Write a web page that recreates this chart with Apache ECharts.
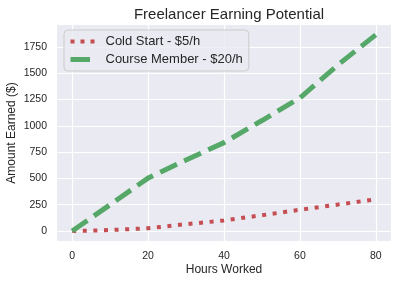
<!DOCTYPE html>
<html><head><meta charset="utf-8">
<script src="https://cdn.jsdelivr.net/npm/echarts@6/dist/echarts.min.js"></script>
<style>html,body{margin:0;padding:0;background:#fff}#c{width:398px;height:282px}</style>
</head><body><div id="c"></div>
<script>
const hours = [0, 10, 20, 30, 40, 50, 60, 70, 80];
const coldStart = [0, 9, 26, 65, 100, 150, 202, 251, 302];
const courseMember = [0, 250, 503, 675, 840, 1050, 1265, 1578, 1865];
const xTicks = [0, 20, 40, 60, 80];
const yTicks = [0, 250, 500, 750, 1000, 1250, 1500, 1750];
const seriesNames = ['Cold Start - $5/h', 'Course Member - $20/h'];

const FONT = '"Liberation Sans", Arial, sans-serif';
const TXT = '#262626';
const RED = '#C44E52', GREEN = '#55A868';
const chart = echarts.init(document.getElementById('c'), null, {renderer: 'canvas'});
chart.setOption({
  animation: false,
  backgroundColor: '#ffffff',
  title: {
    text: 'Freelancer Earning Potential', left: 224, top: 2, textAlign: 'center',
    textStyle: {fontFamily: FONT, fontSize: 15, fontWeight: 'normal', color: TXT}
  },
  legend: {
    orient: 'vertical', left: 64, top: 30,
    backgroundColor: 'rgba(234,234,242,0.8)', borderColor: '#cccccc', borderWidth: 1, borderRadius: 4,
    padding: [5, 6, 5, 4], itemGap: 5, itemWidth: 26, itemHeight: 14,
    textStyle: {fontFamily: FONT, fontSize: 13, color: TXT, padding: [0, 0, 0, 4]},
    itemStyle: {opacity: 0},
    data: [
      {name: seriesNames[0], itemStyle: {opacity: 0}, lineStyle: {color: RED, width: 4, type: [4, 6], cap: 'butt'}},
      {name: seriesNames[1], itemStyle: {opacity: 0}, lineStyle: {color: GREEN, width: 5, type: [19.5, 8], cap: 'butt'}}
    ]
  },
  grid: {left: 57, right: 7, top: 25, bottom: 41, show: true, backgroundColor: '#EAEAF2', borderWidth: 0,
    outerBoundsMode: 'none', containLabel: false},
  xAxis: {
    type: 'value', min: -4, max: 84,
    name: 'Hours Worked', nameLocation: 'middle', nameGap: 23, nameMoveOverlap: false,
    nameTextStyle: {fontFamily: FONT, fontSize: 12, color: TXT},
    axisLine: {show: false}, axisTick: {show: false, customValues: xTicks},
    axisLabel: {customValues: xTicks, fontFamily: FONT, fontSize: 10.5, color: TXT, margin: 10,
      formatter: v => String(v)},
    splitLine: {show: true, lineStyle: {color: '#ffffff', width: 1.2}}
  },
  yAxis: {
    type: 'value', min: -95, max: 1958,
    name: 'Amount Earned ($)', nameLocation: 'middle', nameGap: 39, nameMoveOverlap: false,
    nameTextStyle: {fontFamily: FONT, fontSize: 12, color: TXT},
    axisLine: {show: false}, axisTick: {show: false, customValues: yTicks},
    axisLabel: {customValues: yTicks, fontFamily: FONT, fontSize: 10.5, color: TXT, margin: 10,
      formatter: v => String(v)},
    splitLine: {show: true, lineStyle: {color: '#ffffff', width: 1.2}}
  },
  series: [
    {
      name: seriesNames[0], type: 'line', data: hours.map((h, i) => [h, coldStart[i]]),
      showSymbol: false, symbol: 'none', color: RED,
      lineStyle: {color: RED, width: 4, type: [4, 6.6], cap: 'butt'}
    },
    {
      name: seriesNames[1], type: 'line', data: hours.map((h, i) => [h, courseMember[i]]),
      showSymbol: false, symbol: 'none', color: GREEN,
      lineStyle: {color: GREEN, width: 5, type: [18.5, 8], cap: 'butt'}
    }
  ]
});
</script></body></html>
